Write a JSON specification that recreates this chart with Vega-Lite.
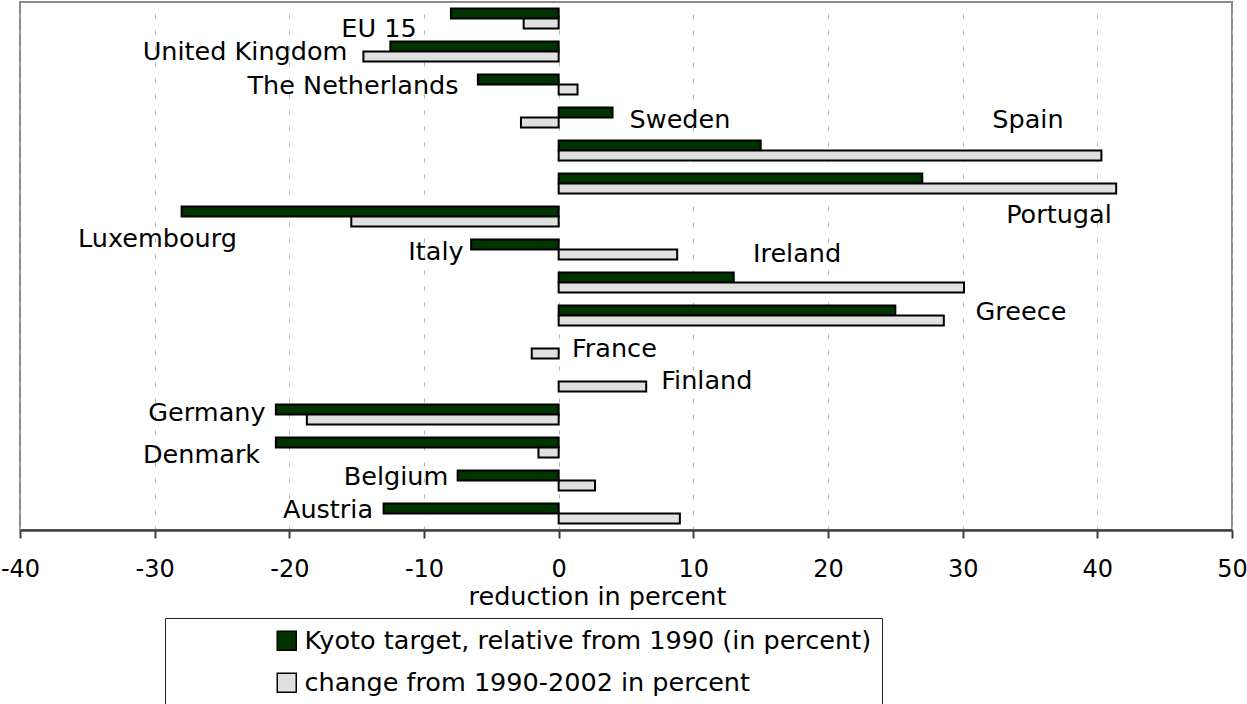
{
  "$schema": "https://vega.github.io/schema/vega-lite/v6.json",
  "width": 1212,
  "height": 528,
  "autosize": {"type": "none"},
  "padding": {"left": 20, "top": 2, "right": 15, "bottom": 174},
  "background": "white",
  "config": {
    "view": {"stroke": "#8c8c8c", "strokeWidth": 2},
    "font": "DejaVu Sans"
  },
  "datasets": {
    "bars": [
      {"country": "EU 15", "series": "Kyoto target, relative from 1990 (in percent)", "value": -8},
      {"country": "EU 15", "series": "change from 1990-2002 in percent", "value": -2.6},
      {"country": "United Kingdom", "series": "Kyoto target, relative from 1990 (in percent)", "value": -12.5},
      {"country": "United Kingdom", "series": "change from 1990-2002 in percent", "value": -14.5},
      {"country": "The Netherlands", "series": "Kyoto target, relative from 1990 (in percent)", "value": -6},
      {"country": "The Netherlands", "series": "change from 1990-2002 in percent", "value": 1.4},
      {"country": "Sweden", "series": "Kyoto target, relative from 1990 (in percent)", "value": 4},
      {"country": "Sweden", "series": "change from 1990-2002 in percent", "value": -2.8},
      {"country": "Spain", "series": "Kyoto target, relative from 1990 (in percent)", "value": 15},
      {"country": "Spain", "series": "change from 1990-2002 in percent", "value": 40.3},
      {"country": "Portugal", "series": "Kyoto target, relative from 1990 (in percent)", "value": 27},
      {"country": "Portugal", "series": "change from 1990-2002 in percent", "value": 41.4},
      {"country": "Luxembourg", "series": "Kyoto target, relative from 1990 (in percent)", "value": -28},
      {"country": "Luxembourg", "series": "change from 1990-2002 in percent", "value": -15.4},
      {"country": "Italy", "series": "Kyoto target, relative from 1990 (in percent)", "value": -6.5},
      {"country": "Italy", "series": "change from 1990-2002 in percent", "value": 8.8},
      {"country": "Ireland", "series": "Kyoto target, relative from 1990 (in percent)", "value": 13},
      {"country": "Ireland", "series": "change from 1990-2002 in percent", "value": 30.1},
      {"country": "Greece", "series": "Kyoto target, relative from 1990 (in percent)", "value": 25},
      {"country": "Greece", "series": "change from 1990-2002 in percent", "value": 28.6},
      {"country": "France", "series": "Kyoto target, relative from 1990 (in percent)", "value": 0},
      {"country": "France", "series": "change from 1990-2002 in percent", "value": -2.0},
      {"country": "Finland", "series": "Kyoto target, relative from 1990 (in percent)", "value": 0},
      {"country": "Finland", "series": "change from 1990-2002 in percent", "value": 6.5},
      {"country": "Germany", "series": "Kyoto target, relative from 1990 (in percent)", "value": -21},
      {"country": "Germany", "series": "change from 1990-2002 in percent", "value": -18.7},
      {"country": "Denmark", "series": "Kyoto target, relative from 1990 (in percent)", "value": -21},
      {"country": "Denmark", "series": "change from 1990-2002 in percent", "value": -1.5},
      {"country": "Belgium", "series": "Kyoto target, relative from 1990 (in percent)", "value": -7.5},
      {"country": "Belgium", "series": "change from 1990-2002 in percent", "value": 2.7},
      {"country": "Austria", "series": "Kyoto target, relative from 1990 (in percent)", "value": -13},
      {"country": "Austria", "series": "change from 1990-2002 in percent", "value": 9.0}
    ],
    "labels": [
      {"country": "EU 15", "lx": -13.34, "ly": 0.82},
      {"country": "United Kingdom", "lx": -23.29, "ly": 1.5},
      {"country": "The Netherlands", "lx": -15.27, "ly": 2.55},
      {"country": "Sweden", "lx": 9.01, "ly": 3.58},
      {"country": "Spain", "lx": 34.85, "ly": 3.58},
      {"country": "Portugal", "lx": 37.15, "ly": 6.45},
      {"country": "Luxembourg", "lx": -29.79, "ly": 7.17},
      {"country": "Italy", "lx": -9.11, "ly": 7.58},
      {"country": "Ireland", "lx": 17.7, "ly": 7.64},
      {"country": "Greece", "lx": 34.33, "ly": 9.39},
      {"country": "France", "lx": 4.14, "ly": 10.51},
      {"country": "Finland", "lx": 11.0, "ly": 11.48},
      {"country": "Germany", "lx": -26.12, "ly": 12.45},
      {"country": "Denmark", "lx": -26.52, "ly": 13.73},
      {"country": "Belgium", "lx": -12.08, "ly": 14.39},
      {"country": "Austria", "lx": -17.13, "ly": 15.39}
    ]
  },
  "layer": [
    {
      "data": {"name": "bars"},
      "mark": {"type": "bar", "stroke": "black"},
      "encoding": {
        "y": {
          "field": "country",
          "type": "nominal",
          "sort": ["EU 15", "United Kingdom", "The Netherlands", "Sweden", "Spain", "Portugal", "Luxembourg", "Italy", "Ireland", "Greece", "France", "Finland", "Germany", "Denmark", "Belgium", "Austria"],
          "scale": {"paddingInner": 0.394, "paddingOuter": 0.197},
          "axis": null
        },
        "yOffset": {
          "field": "series",
          "type": "nominal",
          "sort": ["Kyoto target, relative from 1990 (in percent)", "change from 1990-2002 in percent"]
        },
        "x": {
          "field": "value",
          "type": "quantitative",
          "title": "reduction in percent",
          "scale": {"domain": [-40, 50], "nice": false, "zero": false},
          "axis": {
            "values": [-40, -30, -20, -10, 0, 10, 20, 30, 40, 50],
            "labelExpr": "toString(datum.value)",
            "grid": true,
            "gridColor": "#b0b0b0",
            "gridDash": [4, 12],
            "gridWidth": 1,
            "domainColor": "#404040",
            "domainWidth": 2.5,
            "tickColor": "#404040",
            "tickWidth": 2,
            "tickSize": 8,
            "labelFont": "DejaVu Sans",
            "labelFontSize": 24,
            "labelColor": "black",
            "labelPadding": 19.5,
            "labelFlush": false,
            "labelOverlap": false,
            "titleFont": "DejaVu Sans",
            "titleFontSize": 25.5,
            "titleFontWeight": "normal",
            "titleColor": "black",
            "titleX": 577,
            "titleY": 54,
            "titleBaseline": "top",
            "titleAlign": "center"
          }
        },
        "color": {
          "field": "series",
          "type": "nominal",
          "scale": {
            "domain": ["Kyoto target, relative from 1990 (in percent)", "change from 1990-2002 in percent"],
            "range": ["#003300", "#e0e0e0"]
          },
          "legend": {
            "orient": "none",
            "legendX": 145,
            "legendY": 616,
            "title": null,
            "padding": 10,
            "fillColor": "white",
            "strokeColor": "#222222",
            "symbolType": "square",
            "symbolSize": 361,
            "symbolOffset": 99,
            "symbolStrokeColor": "black",
            "symbolStrokeWidth": 1.5,
            "symbolOpacity": 1,
            "labelFont": "DejaVu Sans",
            "labelFontSize": 25.5,
            "labelColor": "black",
            "labelLimit": 1000,
            "labelOffset": 5,
            "rowPadding": 15
          }
        },
        "strokeWidth": {"condition": {"test": "datum.value === 0", "value": 0}, "value": 2}
      }
    },
    {
      "data": {"name": "labels"},
      "mark": {"type": "text", "font": "DejaVu Sans", "fontSize": 25.5, "align": "center", "baseline": "middle", "color": "black"},
      "encoding": {
        "x": {"field": "lx", "type": "quantitative", "title": "reduction in percent"},
        "y": {"field": "ly", "type": "quantitative", "scale": {"domain": [0, 16], "reverse": true, "nice": false, "zero": false}, "axis": null},
        "text": {"field": "country"}
      }
    }
  ],
  "resolve": {"scale": {"y": "independent"}}
}
